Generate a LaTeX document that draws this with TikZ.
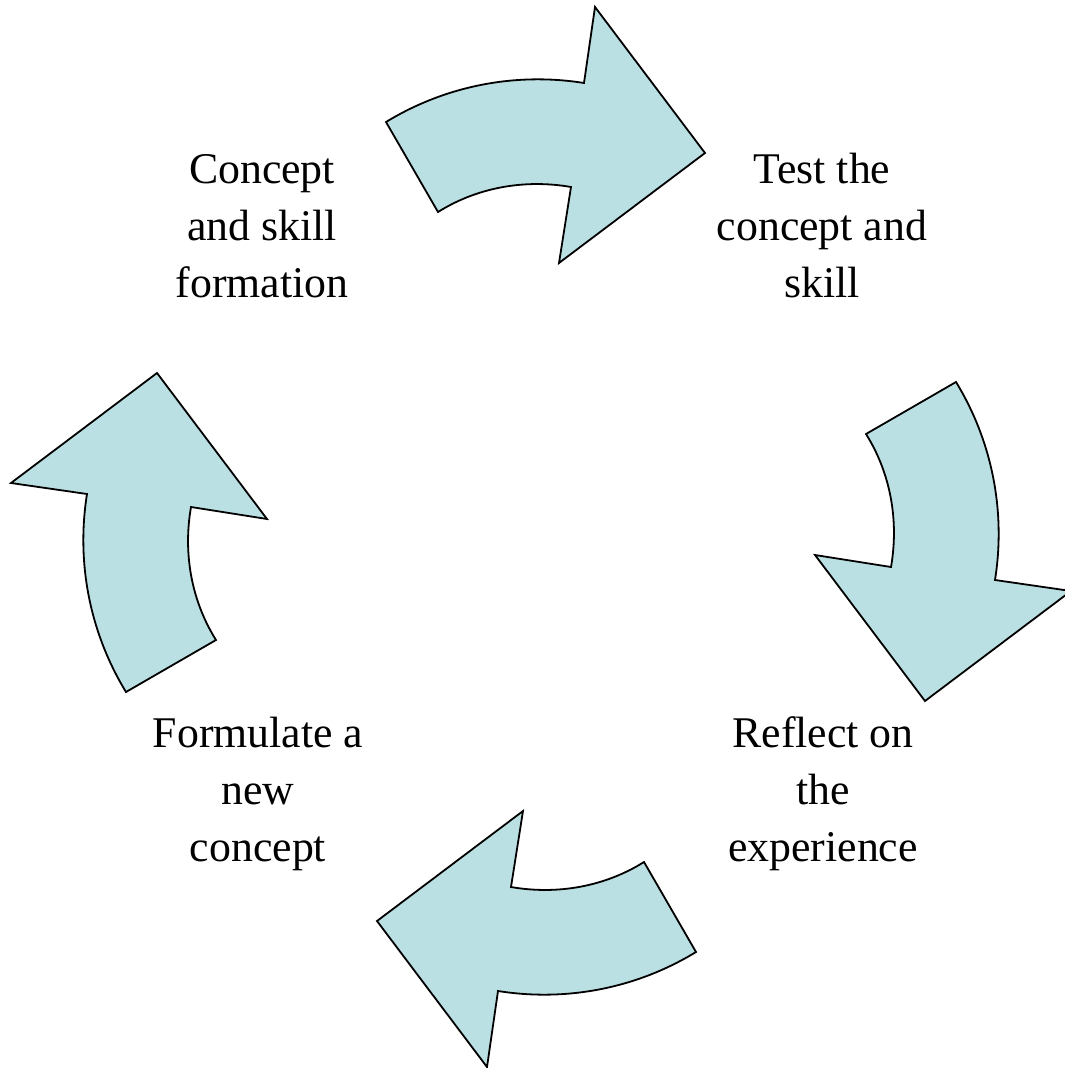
\documentclass[tikz,border=0pt]{standalone}
\usepackage{fontspec}
\setmainfont{Liberation Serif}
\definecolor{arrowfill}{RGB}{187,224,227}
\tikzset{
  arrowshape/.style={fill=arrowfill, draw=black, line width=1.8pt, line join=miter},
  label/.style={font=\fontsize{43.8}{57}\selectfont, align=center, anchor=base, inner sep=0pt},
  cyc arrow/.pic={
    \draw[arrowshape] (-155,-415) .. controls (-96,-451) and (-26,-465) .. (43,-454)
      -- (54,-530) -- (164,-384) -- (18,-274) -- (30,-350)
      .. controls (-16,-358) and (-63.4,-349.8) .. (-103,-325) -- cycle;
  }
}
\begin{document}
\begin{tikzpicture}[x=1pt, y=-1pt]
\useasboundingbox (0,0) rectangle (1065,1068);
\coordinate (ctr) at (541,537);
\pic (topArrow) at (ctr) {cyc arrow};
\pic[rotate=-90] (rightArrow) at (ctr) {cyc arrow};
\pic[rotate=180] (bottomArrow) at (ctr) {cyc arrow};
\pic[rotate=90] (leftArrow) at (ctr) {cyc arrow};
\node[label] (formation) at (262,297) {Concept\\and skill\\formation};
\node[label] (test) at (822,297) {Test the\\concept and\\skill};
\node[label] (formulate) at (258,861) {Formulate a\\new\\concept};
\node[label] (reflect) at (823,861) {Reflect on\\the\\experience};
\end{tikzpicture}
\end{document}
